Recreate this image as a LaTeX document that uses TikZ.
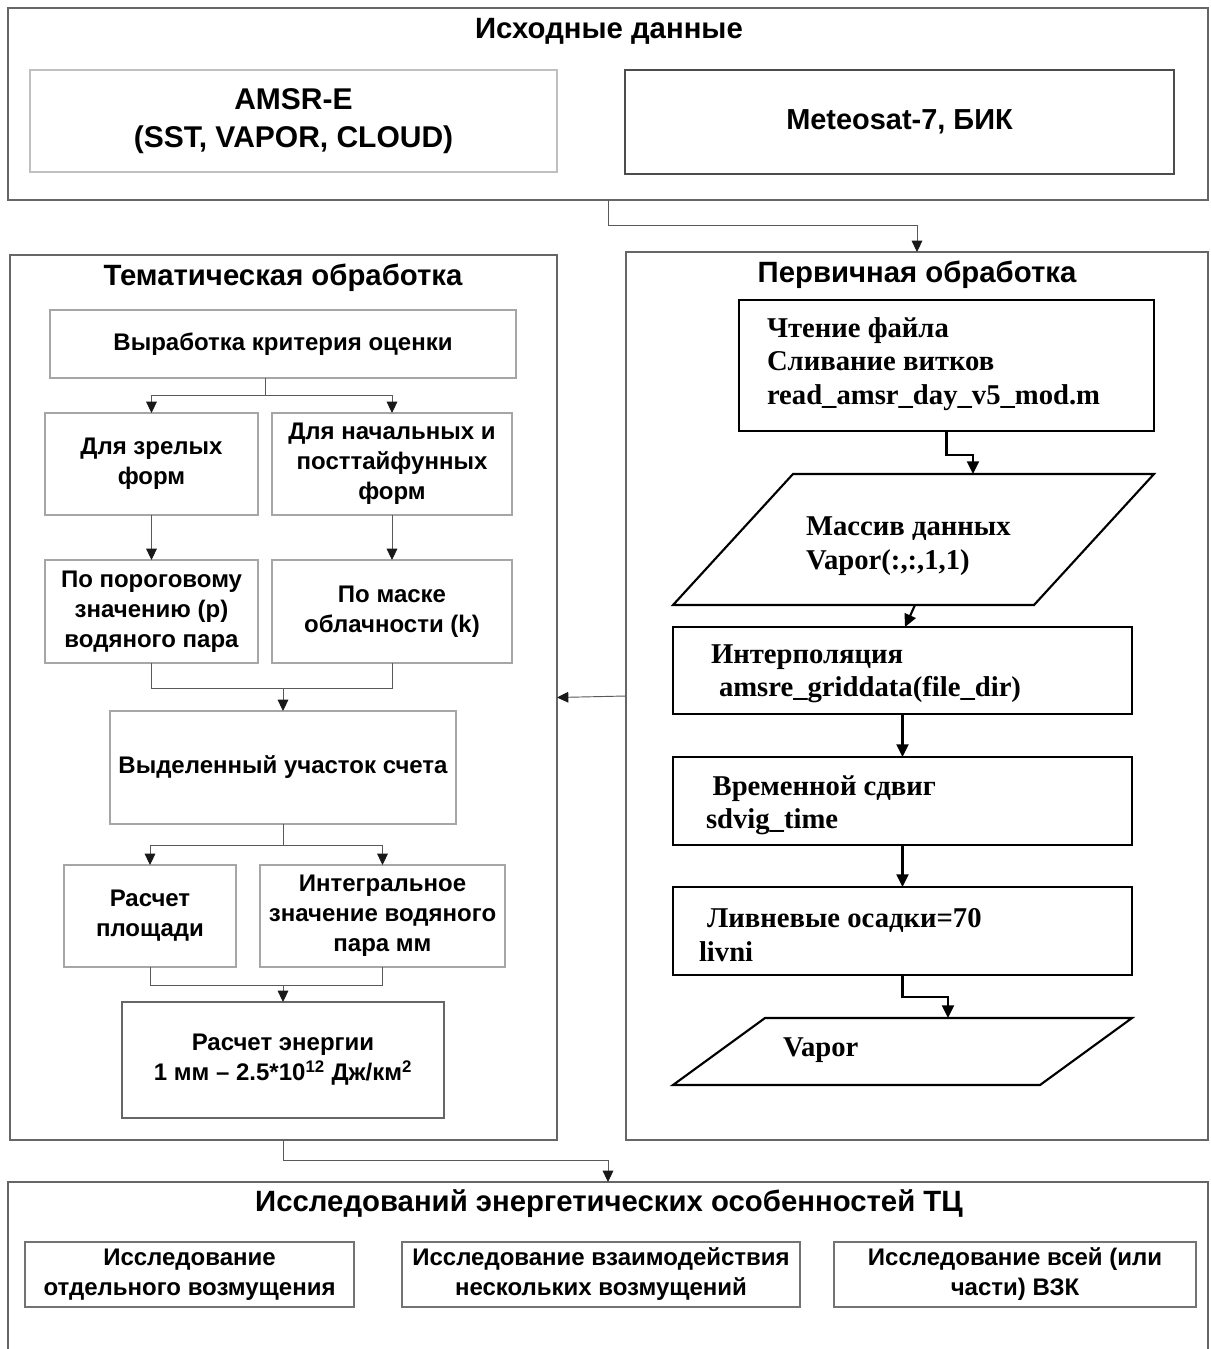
\documentclass[tikz,border=0pt]{standalone}
\usepackage{fontspec}
\setmainfont{Liberation Sans}
\newfontfamily\tnr{Liberation Serif}
\usetikzlibrary{arrows.meta}
\newcommand\bx[7]{\node[#6, minimum width={(#4-#2)*0.75pt}, minimum height={(#5-#3)*0.75pt}] (#1) at ({(#2+#4)/2},{(#3+#5)/2}) {#7};}
\begin{document}
\begin{tikzpicture}[x=0.75pt,y=-0.75pt,
  base/.style={inner sep=0pt, outer sep=0pt, align=center},
  cont/.style={base, draw=black!60, line width=0.9pt},
  lbox/.style={base, draw=black!35, line width=0.9pt, font=\fontsize{18}{22.5}\selectfont\bfseries},
  rbox/.style={base, draw=black, line width=1.6pt},
  rtxt/.style={base, font=\tnr\fontsize{21.5}{25}\selectfont\bfseries, align=left, anchor=west},
  ttl/.style={inner sep=0pt, font=\fontsize{22}{26}\selectfont\bfseries},
  conn/.style={draw=black!65, line width=0.7pt},
  tip/.style={-{Triangle[length=8.5pt,width=8pt,color=black!90]}},
  rconn/.style={draw=black, line width=1.6pt},
  rtip/.style={-{Triangle[length=9.5pt,width=9pt]}}
]
\useasboundingbox (0,0) rectangle (1210,1349);
\fill[white] (0,0) rectangle (1210,1349);

% top
\bx{top}{8}{8}{1208}{200}{cont}{}
\node[ttl] (ttop) at (609,31) {Исходные данные};
\bx{amsr}{30}{70}{557}{172}{lbox, draw=black!25, font=\fontsize{22.5}{26.5}\selectfont\bfseries}{AMSR-E\\[2.5pt](SST, VAPOR, CLOUD)}
\bx{met}{625}{70}{1174}{174}{lbox, draw=black!70, font=\fontsize{21.7}{25}\selectfont\bfseries}{Meteosat-7, БИК}

% containers
\bx{them}{10}{255}{557}{1140}{cont}{}
\node[ttl] (tthem) at (283,278) {Тематическая обработка};
\bx{prim}{626}{252}{1208}{1140}{cont}{}
\node[ttl] (tprim) at (917,275) {Первичная обработка};

\draw[conn,tip] (top.south) -- ++(0,25) -| (prim.north);

% left column
\bx{krit}{50}{310}{516}{378}{lbox}{Выработка критерия оценки}
\bx{z1}{45}{413}{258}{515}{lbox}{Для зрелых\\форм}
\bx{z2}{272}{413}{512}{515}{lbox}{Для начальных и\\посттайфунных\\форм}
\bx{p1}{45}{560}{258}{663}{lbox}{По пороговому\\значению (р)\\водяного пара}
\bx{p2}{272}{560}{512}{663}{lbox}{По маске\\облачности (k)}
\bx{vyd}{110}{711}{456}{824}{lbox}{Выделенный участок счета}
\bx{r1}{64}{865}{236}{967}{lbox}{Расчет\\площади}
\bx{r2}{260}{865}{505}{967}{lbox}{Интегральное\\значение водяного\\пара мм}
\bx{en}{122}{1002}{444}{1118}{lbox, draw=black!60}{Расчет энергии\\1 мм – 2.5*10\textsuperscript{12} Дж/км\textsuperscript{2}}

\path (krit.south) ++(-18,0) coordinate (k0) ++(0,17) coordinate (k1);
\draw[conn] (k0) -- (k1);
\draw[conn,tip] (k1) -| (z1.north);
\draw[conn,tip] (k1) -| (z2.north);
\draw[conn,tip] (z1.south) -- (p1.north);
\draw[conn,tip] (z2.south) -- (p2.north);
\draw[conn] (p1.south) -- ++(0,25) coordinate (m1) -| (p2.south);
\draw[conn,tip] (m1 -| vyd.north) -- (vyd.north);
\path (vyd.south) ++(0,21) coordinate (v1);
\draw[conn] (vyd.south) -- (v1);
\draw[conn,tip] (v1) -| (r1.north);
\draw[conn,tip] (v1) -| (r2.north);
\draw[conn] (r1.south) -- ++(0,18) coordinate (m2) -| (r2.south);
\draw[conn,tip] (m2 -| en.north) -- (en.north);

% right column
\bx{b1}{739}{300}{1154}{431}{rbox}{}
\node[rtxt] (tb1) at (767,364) {Чтение файла\\Сливание витков\\read\_amsr\_day\_v5\_mod.m};
\coordinate (arrtop) at (973,474);
\draw[draw=black, line width=1.6pt] (673,605) -- (793,474) -- (1154,474) -- (1034,605) -- cycle;
\node[rtxt] (arr) at (806,546) {Массив данных\\Vapor(:,:,1,1)};
\coordinate (arrbot) at (915,605);
\bx{interp}{673}{627}{1132}{714}{rbox}{}
\node[rtxt] (tinterp) at (711,674) {Интерполяция\\\hspace*{6pt}amsre\_griddata(file\_dir)};
\bx{vrem}{673}{757}{1132}{845}{rbox}{}
\node[rtxt] (tvrem) at (706,805) {\hspace*{5pt}Временной сдвиг\\sdvig\_time};
\bx{livni}{673}{887}{1132}{975}{rbox}{}
\node[rtxt] (tlivni) at (699,935) {\hspace*{6pt}Ливневые осадки=70\\livni};
\coordinate (vtop) at (948,1018);
\draw[draw=black, line width=1.6pt] (673,1085) -- (765,1018) -- (1132,1018) -- (1040,1085) -- cycle;
\node[rtxt] (vap) at (783,1050) {Vapor};

\draw[rconn] (b1.south) -- ++(0,24) -| ++(26.5,9) coordinate (b1e);
\draw[rconn,rtip] (b1e) -- (arrtop);
\draw[rconn,rtip] (arrbot) -- (interp.north -| 905,0);
\draw[rconn,rtip] (interp.south) -- (vrem.north);
\draw[rconn,rtip] (vrem.south) -- (livni.north);
\draw[rconn] (livni.south) -- ++(0,22) -| ++(45.5,9) coordinate (le);
\draw[rconn,rtip] (le) -- (vtop);

\draw[conn,tip] (prim.west) -- (them.east);

% bottom
\bx{bot}{8}{1182}{1208}{1420}{cont}{}
\draw[conn,tip] (them.south) -- ++(0,20) -| (bot.north);
\node[ttl] (tbot) at (609,1204) {Исследований энергетических особенностей ТЦ};
\bx{s1}{25}{1242}{354}{1307}{lbox, draw=black!55}{Исследование\\отдельного возмущения}
\bx{s2}{402}{1242}{800}{1307}{lbox, draw=black!55}{Исследование взаимодействия\\нескольких возмущений}
\bx{s3}{834}{1242}{1196}{1307}{lbox, draw=black!55}{Исследование всей (или\\части) ВЗК}
\end{tikzpicture}
\end{document}
